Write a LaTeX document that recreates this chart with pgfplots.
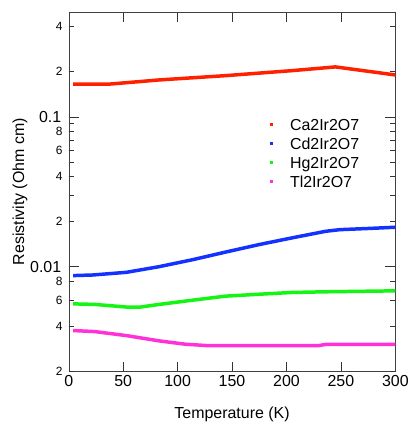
\documentclass[border=0pt]{standalone}
\usepackage{fontspec}
\setmainfont{Liberation Sans}
\usepackage{pgfplots}
\pgfplotsset{compat=1.18}
\definecolor{caRed}{RGB}{255,32,0}
\definecolor{cdBlue}{RGB}{20,50,255}
\definecolor{hgGreen}{RGB}{20,245,20}
\definecolor{tlPink}{RGB}{255,50,215}

\begin{document}
\begin{tikzpicture}
\begin{semilogyaxis}[
  scale only axis, width=328pt, height=361pt,
  xmin=0, xmax=300, ymin=0.002, ymax=0.5,
  xtick={0,50,...,300}, minor x tick num=0,
  ytick={0.01,0.1}, yticklabels={0.01,0.1},
  extra y ticks={0.002,0.004,0.006,0.008,0.02,0.04,0.06,0.08,0.2,0.4},
  extra y tick labels={2,4,6,8,2,4,6,8,2,4},
  extra tick style={major tick length=5pt,
    yticklabel style={font=\fontsize{12}{12}\selectfont, inner xsep=2pt, xshift=0pt}},
  major tick length=10pt, minor tick length=5pt,
  tick align=inside, tick pos=both,
  axis line style={black!75}, tick style={black!80, thin},
  /pgf/number format/assume math mode=true,
  tick label style={font=\fontsize{16}{16}\selectfont},
  yticklabel style={xshift=-4pt},
  label style={font=\fontsize{16}{16}\selectfont},
  xlabel={Temperature (K)},
  ylabel={Resistivity (Ohm cm)},
  xlabel style={at={(axis description cs:0.5,-0.119)}, anchor=center},
  ylabel style={at={(axis description cs:-0.149,0.5)}, anchor=center},
  legend style={draw=none, fill=none, font=\fontsize{16}{16}\selectfont,
    at={(axis description cs:0.616,0.704)}, anchor=north west,
    inner sep=0pt, row sep=7pt,
    nodes={inner ysep=0pt, text height=12pt, text depth=0pt}},
  legend cell align=left,
  legend image code/.code={\fill[draw=none] (0pt,-1.5pt) rectangle (3pt,1.5pt); \path[draw=none] (0pt,0pt) -- (18pt,0pt);},
  every axis plot/.append style={line width=3.5pt},
]
\addplot[color=caRed] coordinates {
(4,0.165) (37,0.165) (83,0.176) (144,0.188) (205,0.203) (245,0.215) (300,0.190)};
\addplot[color=cdBlue] coordinates {
(4,0.00872) (22,0.0088) (53,0.00917) (83,0.0100) (114,0.01114) (144,0.01251)
(175,0.01405) (205,0.01556) (236,0.01722) (249,0.01766) (279,0.01803) (300,0.01833)};
\addplot[color=hgGreen] coordinates {
(4,0.00565) (24,0.0056) (53,0.00538) (66,0.00538) (83,0.00560) (114,0.00598)
(144,0.00636) (175,0.00655) (205,0.00673) (236,0.0068) (300,0.0069)};
\addplot[color=tlPink] coordinates {
(4,0.00375) (24,0.00369) (53,0.00347) (83,0.00320) (107,0.00304) (129,0.00297)
(229,0.00297) (236,0.00303) (300,0.00303)};
\legend{Ca2Ir2O7,Cd2Ir2O7,Hg2Ir2O7,Tl2Ir2O7}
\end{semilogyaxis}
\path ([xshift=-69pt,yshift=-52pt]current axis.south west) rectangle ([xshift=14pt,yshift=12pt]current axis.north east);
\end{tikzpicture}
\end{document}
